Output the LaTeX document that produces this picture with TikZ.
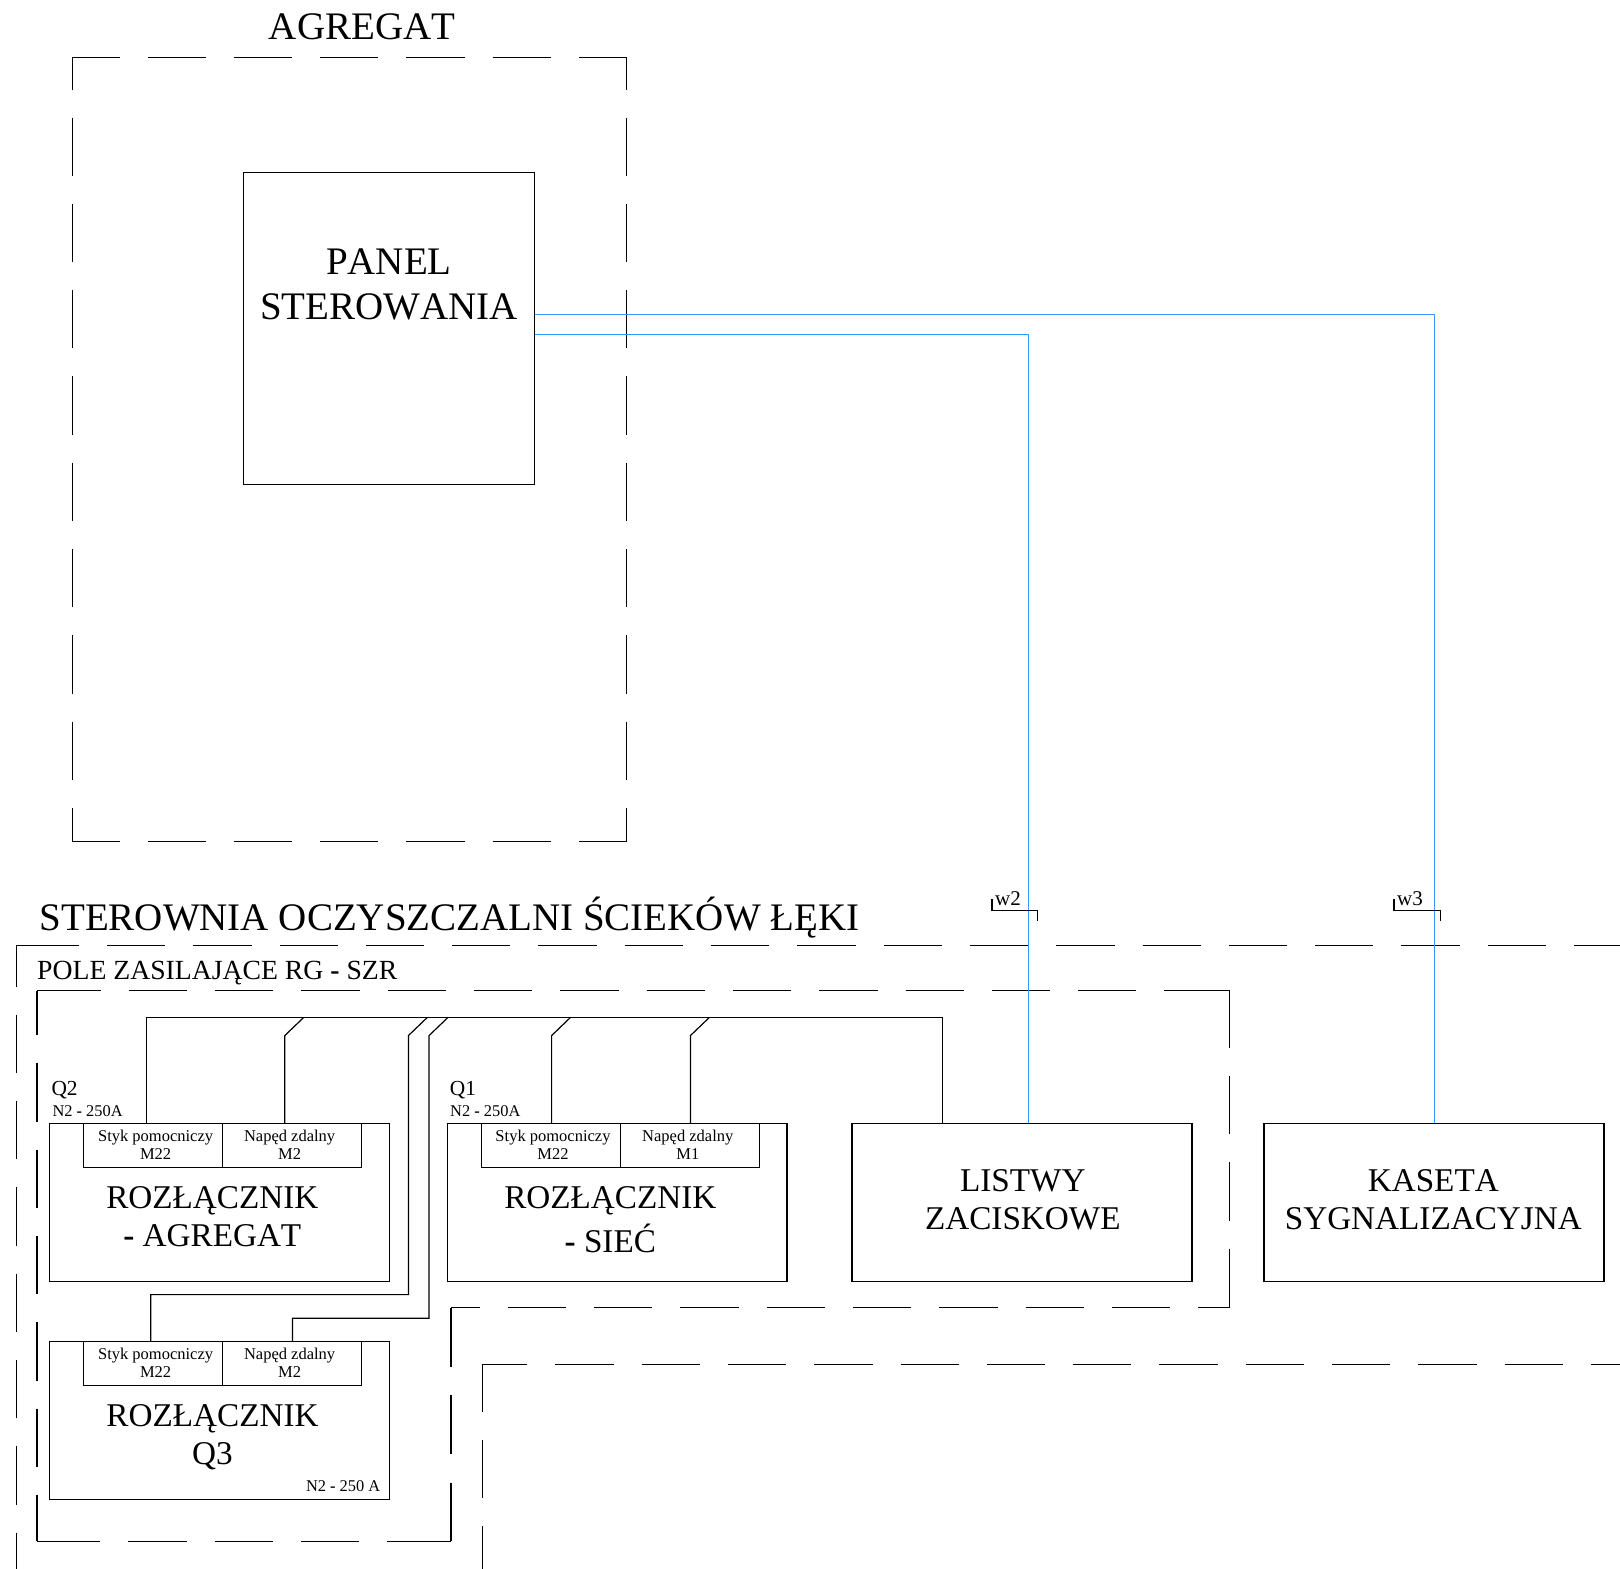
\documentclass[tikz,border=0pt]{standalone}
\usepackage{fontspec}
\usepackage{tikz}
\usetikzlibrary{positioning}
\setmainfont[Kerning=Off]{Liberation Serif}
\definecolor{CableBlue}{RGB}{51,150,250}

\begin{document}
\begin{tikzpicture}[x=1pt, y=-1pt]
		\tikzstyle{Box} 	= [rectangle, draw, line width=1.2pt, inner sep=0pt, outer sep=0pt]
		\tikzstyle{Aux} 	= [Box, minimum height=43.9pt]
		\tikzstyle{AuxText}	= [inner sep=0pt, align=center, font=\fontsize{16.5}{18.1}\selectfont]
		\tikzstyle{Wire}	= [line width=1.2pt]
		\tikzstyle{Cable}	= [line width=1pt, CableBlue]
		\tikzstyle{Frame}	= [line width=1.2pt, dash pattern=on 58.3pt off 28pt]
		\tikzstyle{Huge}	= [inner sep=0pt, anchor=base, align=center, font=\fontsize{39}{44.7}\selectfont]
		\tikzstyle{Large}	= [inner sep=0pt, anchor=base, align=center, font=\fontsize{33.2}{37.8}\selectfont]
		\tikzstyle{Tag} 	= [inner sep=0pt, anchor=base west, font=\fontsize{21.4}{24}\selectfont]
		\tikzstyle{Rating}	= [inner sep=0pt, anchor=base west, font=\fontsize{16.4}{18}\selectfont]

		\useasboundingbox (0,0) rectangle (1620,1569);

		% frame corners
		\coordinate (a1) at (72.4, 57.5);
		\coordinate (a2) at (626.7, 57.5);
		\coordinate (a3) at (626.7, 841.7);
		\coordinate (a4) at (72.4, 841.7);

		\coordinate (o0) at (20.6, 945.2);
		\coordinate (o1) at (16.7, 945.2);
		\coordinate (o2) at (16.7, 1569);
		\coordinate (o3) at (1620, 945.2);

		\coordinate (p0) at (42.5, 990.8);
		\coordinate (p1) at (37, 990.8);
		\coordinate (p2) at (1229.6, 990.8);
		\coordinate (p3) at (1229.6, 1307.7);
		\coordinate (p4) at (451, 1307.7);
		\coordinate (p5) at (451, 1541.4);
		\coordinate (p6) at (37, 1541.4);
		\coordinate (p7) at (42.1, 1541.4);
		\coordinate (p8) at (1223.3, 990.8);
		\coordinate (p9) at (445.6, 1541.4);

		\coordinate (r1) at (482.3, 1364.3);
		\coordinate (r2) at (1620, 1364.3);
		\coordinate (r3) at (482.3, 1569);

		\draw [-] (a1) -- (a2) [Frame, dash phase=11.2pt];
		\draw [-] (a4) -- (a3) [Frame, dash phase=11.2pt];
		\draw [-] (a1) -- (a4) [Frame, dash phase=26.3pt];
		\draw [-] (a2) -- (a3) [Frame, dash phase=26.3pt];

		\draw [-] (o0) -- (o3) [Frame];
		\draw [-] (o0) -- (o1) -- (o2) [Frame, dash phase=12.9pt];

		\draw [-] (p0) -- (p2) [Frame];
		\draw [-] (p1) -- (p0) [Wire];
		\draw [-] (p8) -- (p2) [Wire];
		\draw [-] (p2) -- (p3) [Frame, dash phase=1pt];
		\draw [-] (p4) -- (p3) [Frame, dash phase=29.6pt];
		\draw [-] (p4) -- (p5) [Wire, dash pattern=on 58.8pt off 28.6pt];
		\draw [-] (p7) -- (p5) [Frame];
		\draw [-] (p6) -- (p7) [Wire];
		\draw [-] (p9) -- (p5) [Wire];
		\draw [-] (p1) -- (p6) [Frame, dash phase=13.8pt];

		\draw [-] (r1) -- (r2) [Frame, dash phase=13.3pt];
		\draw [-] (r1) -- (r3) [Frame, dash phase=11pt];

		% boxes
		\node (panel) at (388.9, 328.7) [Box, minimum width=291.2pt, minimum height=312pt] {};
		\node (q2) at (219.35, 1202.3) [Box, minimum width=340.3pt, minimum height=157.8pt] {};
		\node (q1) at (617.15, 1202.3) [Box, minimum width=339.7pt, minimum height=157.8pt] {};
		\node (q3) at (219.35, 1420.35) [Box, minimum width=340.3pt, minimum height=157.9pt] {};
		\node (listwy) at (1022, 1202.3) [Box, minimum width=340pt, minimum height=157.8pt] {};
		\node (kaseta) at (1434, 1202.3) [Box, minimum width=339.9pt, minimum height=157.8pt] {};

		\node (s2) at (153.25, 1145.35) [Aux, minimum width=139.1pt] {};
		\node (n2) at (292.2, 1145.35) [Aux, minimum width=138.8pt] {};
		\node (s1) at (550.9, 1145.35) [Aux, minimum width=138.8pt] {};
		\node (n1) at (689.95, 1145.35) [Aux, minimum width=139.3pt] {};
		\node (s3) at (153.25, 1363.35) [Aux, minimum width=139.1pt] {};
		\node (n3) at (292.2, 1363.35) [Aux, minimum width=138.8pt] {};

		% labels
		\node (x2) at (155.6, 1145.1) [AuxText] {Styk pomocniczy\\M22};
		\node (y2) at (289.6, 1145.1) [AuxText] {Napęd zdalny\\M2};
		\node (x1) at (553, 1145.1) [AuxText] {Styk pomocniczy\\M22};
		\node (y1) at (687.8, 1145.1) [AuxText] {Napęd zdalny\\M1};
		\node (x3) at (155.6, 1363.1) [AuxText] {Styk pomocniczy\\M22};
		\node (y3) at (289.6, 1363.1) [AuxText] {Napęd zdalny\\M2};

		\node (t1) at (362, 39.3) [Huge] {AGREGAT};
		\node (t2) at (388.9, 319) [Huge] {PANEL\\STEROWANIA};
		\node (t3) at (39.3, 930.7) [Huge, anchor=base west] {STEROWNIA OCZYSZCZALNI ŚCIEKÓW ŁĘKI};
		\node (t4) at (37, 979) [inner sep=0pt, anchor=base west, font=\fontsize{27.7}{30}\selectfont] {POLE ZASILAJĄCE RG \textbf{-} SZR};
		\node (t5) at (212.3, 1246.4) [Large] {ROZŁĄCZNIK\\\textbf{-} AGREGAT};
		\node (t6) at (610.3, 1252.3) [Large, font=\fontsize{33.2}{44.3}\selectfont] {ROZŁĄCZNIK\\\textbf{-} SIEĆ};
		\node (t7) at (212.5, 1464) [Large] {ROZŁĄCZNIK\\Q3};
		\node (t8) at (1022.8, 1229.3) [Large] {LISTWY\\ZACISKOWE};
		\node (t9) at (1433.3, 1229.3) [Large] {KASETA\\SYGNALIZACYJNA};

		\node (l1) at (51.3, 1095.4) [Tag] {Q2};
		\node (l2) at (52.3, 1116) [Rating] {N2 \textbf{-} 250A};
		\node (l3) at (449.7, 1095.4) [Tag] {Q1};
		\node (l4) at (450, 1116) [Rating] {N2 \textbf{-} 250A};
		\node (l5) at (305.8, 1491.6) [Rating] {N2 \textbf{-} 250 A};

		% signal bus
		\coordinate (b1) at (146.4, 1017.4);
		\coordinate (b2) at (303.7, 1017.4);
		\coordinate (b3) at (427.3, 1017.4);
		\coordinate (b4) at (448, 1017.4);
		\coordinate (b5) at (570.5, 1017.4);
		\coordinate (b6) at (709.4, 1017.4);
		\coordinate (b7) at (942.7, 1017.4);

		\coordinate (k2) at (284.8, 1035.6);
		\coordinate (k3) at (408.4, 1035.6);
		\coordinate (k4) at (429, 1035.6);
		\coordinate (k5) at (551.6, 1035.6);
		\coordinate (k6) at (690.4, 1035.6);

		\coordinate (d3) at (150.8, 1294.6);
		\coordinate (d4) at (292.4, 1318.2);

		\draw [-] (s2.north -| b1) -- (b1) -- (b7) -- (b7 |- listwy.north) [Wire];
		\draw [-] (n2.north -| k2) -- (k2) -- (b2) [Wire];
		\draw [-] (s3.north -| d3) -- (d3) -- (d3 -| k3) -- (k3) -- (b3) [Wire];
		\draw [-] (n3.north -| d4) -- (d4) -- (d4 -| k4) -- (k4) -- (b4) [Wire];
		\draw [-] (s1.north -| k5) -- (k5) -- (b5) [Wire];
		\draw [-] (n1.north -| k6) -- (k6) -- (b6) [Wire];

		% cables
		\coordinate (c1) at (1434, 314);
		\coordinate (c2) at (1028, 334);

		\draw [-] (panel.east |- c1) -- (c1) -- (kaseta.north) [Cable];
		\draw [-] (panel.east |- c2) -- (c2) -- (c2 |- listwy.north) [Cable];

		\node (w2) at (995, 905) [inner sep=0pt, anchor=base west, font=\fontsize{21}{24}\selectfont] {w2};
		\node (w3) at (1397, 905) [inner sep=0pt, anchor=base west, font=\fontsize{21}{24}\selectfont] {w3};

		\coordinate (m1) at (992, 899.3);
		\coordinate (m2) at (992, 910.3);
		\coordinate (m3) at (1037.8, 910.3);
		\coordinate (m4) at (1037.8, 921.3);
		\coordinate (m5) at (1393.9, 899.3);
		\coordinate (m6) at (1393.9, 910.3);
		\coordinate (m7) at (1440.1, 910.3);
		\coordinate (m8) at (1440.1, 921.3);

		\draw [-] (m1) -- (m2) -- (m3) -- (m4) [Wire];
		\draw [-] (m5) -- (m6) -- (m7) -- (m8) [Wire];
	\end{tikzpicture}
\end{document}
